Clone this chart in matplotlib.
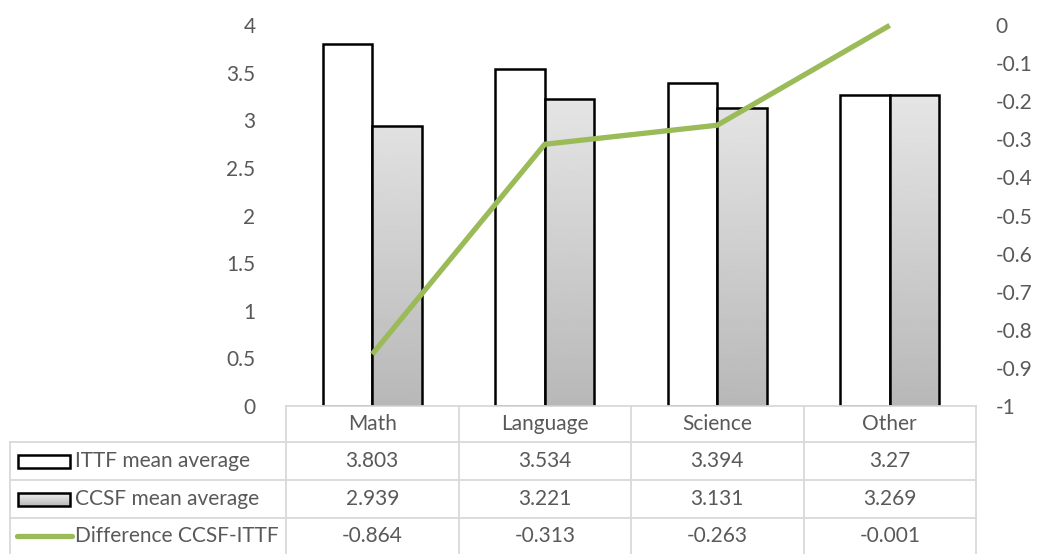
import numpy as np
import matplotlib.pyplot as plt
from matplotlib.patches import Rectangle
from matplotlib.lines import Line2D
import matplotlib.transforms as mtransforms

plt.rcParams['font.family'] = ['Lato', 'DejaVu Sans']

categories = ['Math', 'Language', 'Science', 'Other']
ittf = [3.803, 3.534, 3.394, 3.27]
ccsf = [2.939, 3.221, 3.131, 3.269]
diff = [-0.864, -0.313, -0.263, -0.001]
ittf_labels = ['3.803', '3.534', '3.394', '3.27']
ccsf_labels = ['2.939', '3.221', '3.131', '3.269']
diff_labels = ['-0.864', '-0.313', '-0.263', '-0.001']
series_names = ['ITTF mean average', 'CCSF mean average', 'Difference CCSF-ITTF']

W, H = 1038, 554
text_col = '#595959'
grid_col = '#D9D9D9'
green = '#9BBB59'
fs = 15

fig = plt.figure(figsize=(W / 100, H / 100), dpi=100)

def fx(px):
    return px / W

def fy(py):
    return 1 - py / H

ax = fig.add_axes([fx(286), fy(406), fx(976) - fx(286), fy(25) - fy(406)])
ax.set_xlim(-0.5, len(categories) - 0.5)
ax.set_ylim(0, 4)
ax.set_yticks(np.arange(0, 4.01, 0.5))
ax.set_yticklabels(['0', '0.5', '1', '1.5', '2', '2.5', '3', '3.5', '4'])
ax.set_xticks([])
for s in ax.spines.values():
    s.set_visible(False)
ax.tick_params(axis='y', length=0, pad=22, labelsize=fs, labelcolor=text_col)

x = np.arange(len(categories))
bw = 0.288
ax.bar(x - bw / 2, ittf, bw, facecolor='white', edgecolor='black', linewidth=1.8, zorder=2)
gray_bars = ax.bar(x + bw / 2, ccsf, bw, facecolor='none', edgecolor='black', linewidth=1.8, zorder=3)

# vertical gradient for the CCSF bars
grad = np.linspace(0.72, 0.94, 256).reshape(-1, 1)
for b in gray_bars:
    im = ax.imshow(grad, cmap='gray', vmin=0, vmax=1, origin='lower', aspect='auto',
                   extent=[b.get_x(), b.get_x() + b.get_width(), 0, 4], zorder=2.5)
    im.set_clip_path(b)
ax.set_xlim(-0.5, len(categories) - 0.5)
ax.set_ylim(0, 4)

ax2 = ax.twinx()
ax2.set_ylim(-1, 0)
ax2.set_yticks(np.arange(-1, 0.01, 0.1))
ax2.set_yticklabels(['-1', '-0.9', '-0.8', '-0.7', '-0.6', '-0.5', '-0.4', '-0.3', '-0.2', '-0.1', '0'])
for s in ax2.spines.values():
    s.set_visible(False)
ax2.tick_params(axis='y', length=0, pad=14, labelsize=fs, labelcolor=text_col)
ax2.plot(x, diff, color=green, linewidth=3.8, solid_capstyle='butt', clip_on=False, zorder=5)

# data table below the plot area
trans = mtransforms.blended_transform_factory(ax.transData, fig.transFigure)
rows_px = [406, 442, 480, 518, 554]
bounds = np.arange(len(categories) + 1) - 0.5

for yp in rows_px[1:4]:
    fig.add_artist(Line2D([fx(10), fx(976)], [fy(yp), fy(yp)], color=grid_col, lw=1.3))
fig.add_artist(Line2D([fx(286), fx(976)], [fy(406), fy(406)], color=grid_col, lw=1.3))
fig.add_artist(Line2D([fx(10), fx(10)], [fy(442), fy(554)], color=grid_col, lw=1.3))
for b in bounds:
    fig.add_artist(Line2D([b, b], [fy(406), fy(554)], color=grid_col, lw=1.3, transform=trans))

row_vals = [categories, ittf_labels, ccsf_labels, diff_labels]
for r, vals in enumerate(row_vals):
    yc = fy((rows_px[r] + rows_px[r + 1]) / 2)
    for i, v in enumerate(vals):
        fig.text(i, yc, v, transform=trans, ha='center', va='center',
                 fontsize=fs, color=text_col)

for r, name in enumerate(series_names):
    yc = fy((rows_px[r + 1] + rows_px[r + 2]) / 2)
    fig.text(fx(75), yc, name, ha='left', va='center', fontsize=fs, color=text_col)

# legend keys
kh = 13 / H
k1 = (rows_px[1] + rows_px[2]) / 2
fig.add_artist(Rectangle((fx(18), fy(k1) - kh / 2), fx(70) - fx(18), kh,
                         facecolor='white', edgecolor='black', lw=1.8, transform=fig.transFigure))
k2 = (rows_px[2] + rows_px[3]) / 2
key2 = Rectangle((fx(18), fy(k2) - kh / 2), fx(70) - fx(18), kh,
                 facecolor='none', edgecolor='black', lw=1.8, transform=fig.transFigure, zorder=3)
fig.add_artist(key2)
kax = fig.add_axes([fx(18), fy(k2) - kh / 2, fx(70) - fx(18), kh])
kax.imshow(grad, cmap='gray', vmin=0, vmax=1, origin='lower', aspect='auto')
kax.axis('off')
k3 = (rows_px[3] + rows_px[4]) / 2
fig.add_artist(Line2D([fx(17), fx(72)], [fy(k3), fy(k3)], color=green, lw=3.8,
                      solid_capstyle='round'))

fig.savefig('out.png', dpi=100)
